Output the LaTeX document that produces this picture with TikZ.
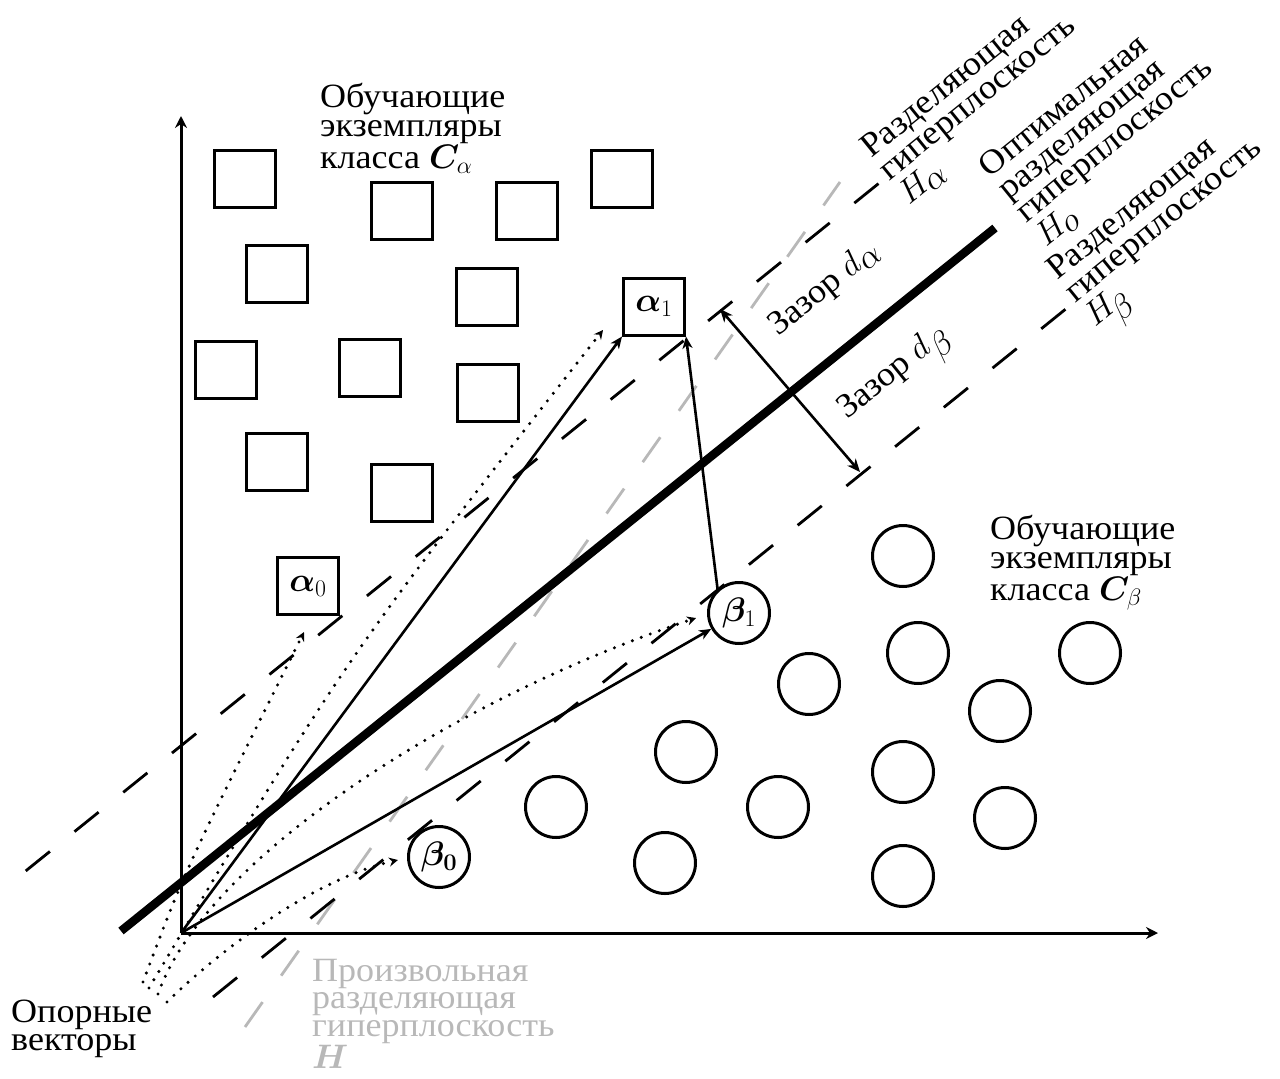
\RequirePackage{fix-cm}
\documentclass[tikz,border=0pt]{standalone}
\usepackage{amsmath,bm}
\usepackage[no-math]{fontspec}
\setmainfont[FakeStretch=1.06]{Liberation Serif}
\usetikzlibrary{arrows.meta}
\definecolor{hgray}{gray}{0.72}
\begin{document}
\begin{tikzpicture}[x=1pt,y=-1pt,
  % multi-line labels are anchored at the baseline of their last line
  lbl/.style={font=\fontsize{34}{29}\selectfont, inner sep=0pt, align=left, anchor=base west},
  rlbl/.style={lbl, rotate=39},
  sq/.style={draw, fill=white, line width=3pt, minimum width=61pt, minimum height=57pt,
             inner sep=0pt, font=\fontsize{34}{34}\selectfont},
  ci/.style={draw, fill=white, circle, line width=3pt, minimum size=61pt, inner sep=0pt,
             font=\fontsize{34}{34}\selectfont},
  axis/.style={line width=3pt, -{Stealth[length=12pt,width=12pt,inset=4pt]}},
  vec/.style={line width=2.6pt, -{Stealth[length=12pt,width=10pt,inset=3.5pt]}},
  svec/.style={line width=3.4pt, line cap=round, dash pattern=on 0pt off 9.6pt,
               -{Stealth[length=9pt,width=9pt,inset=3pt]}},
  margin/.style={line width=2.8pt, dash pattern=on 31pt off 31.6pt},
  free/.style={hgray, line width=2.8pt, dash pattern=on 30.5pt off 32.3pt},
  optimal/.style={line width=8.5pt},
  gap/.style={line width=2.6pt,
              {Stealth[length=13pt,width=11pt,inset=4pt]}-{Stealth[length=13pt,width=11pt,inset=4pt]}},
]
\useasboundingbox (0,0) rectangle (1280,1079);

% key points
\coordinate (O) at (181,933);
\coordinate (xend) at (1158,933);
\coordinate (yend) at (181,116);
\coordinate (Ha1) at (25.75,870.9);  \coordinate (Ha2) at (878.5,183.6);
\coordinate (Hb1) at (213,997);      \coordinate (Hb2) at (1067,308);
\coordinate (Ho1) at (121,931);      \coordinate (Ho2) at (995,228);
\coordinate (H1) at (245,1027);      \coordinate (H2) at (840,182);
\coordinate (ga) at (720,309);       \coordinate (gb) at (860,472);

% hyperplanes
\draw[free] (H1) -- (H2);
\draw[margin] (Ha1) -- (Ha2);
\draw[margin] (Hb1) -- (Hb2);
\draw[optimal] (Ho1) -- (Ho2);

% axes
\draw[axis] (O) -- (xend);
\draw[axis] (O) -- (yend);

% class C_alpha
\node[sq] (s1) at (245,179) {};
\node[sq] (s2) at (402,211) {};
\node[sq] (s3) at (527,211) {};
\node[sq] (s4) at (622,179) {};
\node[sq] (s5) at (277,273.5) {};
\node[sq] (s6) at (486.5,297) {};
\node[sq] (s7) at (226,369.5) {};
\node[sq] (s8) at (370,367.5) {};
\node[sq] (s9) at (488,392.5) {};
\node[sq] (s10) at (277,462) {};
\node[sq] (s11) at (402,493) {};
\node[sq] (a1) at (654,306.5) {$\boldsymbol{\alpha}_1$};
\node[sq] (a0) at (308,586) {$\boldsymbol{\alpha}_0$};

% class C_beta
\node[ci] (c1) at (903,556) {};
\node[ci] (c2) at (918,653) {};
\node[ci] (c3) at (1090,653) {};
\node[ci] (c4) at (809,684) {};
\node[ci] (c5) at (1000,711) {};
\node[ci] (c6) at (686,752) {};
\node[ci] (c7) at (903,772) {};
\node[ci] (c8) at (556,807) {};
\node[ci] (c9) at (778,807) {};
\node[ci] (c10) at (1005,818) {};
\node[ci] (c11) at (665,863) {};
\node[ci] (c12) at (903,876) {};
\node[ci] (b1) at (739,613) {$\boldsymbol{\beta}_1$};
\node[ci] (b0) at (439,857) {$\boldsymbol{\beta}_{\boldsymbol{0}}$};

% vectors from the origin
\draw[vec] (O) -- (a1.south west);
\draw[vec] (O) -- (b1);
\draw[vec] (b1.132) -- (a1.south east);

% support vectors (dotted)
\coordinate (sa0) at (143,982);  \coordinate (ta0) at (304,632);
\coordinate (sa1) at (149,988);  \coordinate (ta1) at (603,330);
\coordinate (sb1) at (158,994);  \coordinate (tb1) at (696,618);
\coordinate (sb0) at (167,1002); \coordinate (tb0) at (398,860);
\draw[svec] (sa0) .. controls (185,870) .. (ta0);
\draw[svec] (sa1) .. controls (344,660) .. (ta1);
\draw[svec] (sb1) .. controls (205,860) and (450,700) .. (tb1);
\draw[svec] (sb0) .. controls (215,955) and (310,880) .. (tb0);

% margin
\draw[gap] (ga) -- (gb);

% labels
\node[lbl] (la) at (320,168) {Обучающие\\экземпляры\\класса $\boldsymbol{C}_\alpha$};
\node[lbl] (lb) at (990,600) {Обучающие\\экземпляры\\класса $\boldsymbol{C}_\beta$};
\node[lbl, font=\fontsize{34}{28}\selectfont] (lsv) at (11,1050) {Опорные\\векторы};
\node[lbl, hgray, font=\fontsize{34}{27.7}\selectfont] (lh) at (312,1068)
  {Произвольная\\разделяющая\\гиперплоскость\\$\boldsymbol{H}$};
\node[rlbl] (lha) at (909,206) {Разделяющая\\гиперплоскость\\$H_{\textstyle\alpha}$};
\node[rlbl] (lho) at (1046,248) {Оптимальная\\разделяющая\\гиперплоскость\\$H_{\textstyle o}$};
\node[rlbl] (lhb) at (1095,328) {Разделяющая\\гиперплоскость\\$H_{\!\textstyle\beta}$};
\node[rlbl] (lda) at (778,337) {Зазор $d_{\textstyle\alpha}$};
\node[rlbl] (ldb) at (847,420) {Зазор $d_{\textstyle\beta}$};
\end{tikzpicture}
\end{document}
